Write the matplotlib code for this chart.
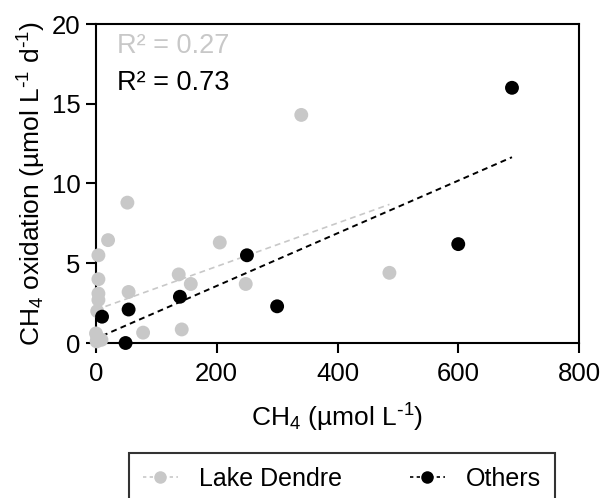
import numpy as np
import matplotlib
matplotlib.use("Agg")
import matplotlib.pyplot as plt
from matplotlib.lines import Line2D

plt.rcParams['font.family'] = ['Liberation Sans', 'DejaVu Sans']
plt.rcParams['mathtext.default'] = 'regular'

# Lake Dendre data
dendre_x = [340, 52, 20, 205, 4, 4, 137, 157, 248, 54, 4, 4, 2, 78, 142, 486, 0, 2, 9, 1]
dendre_y = [14.3, 8.8, 6.45, 6.3, 5.5, 4.0, 4.3, 3.7, 3.7, 3.2, 3.1, 2.7, 2.0, 0.65, 0.85, 4.4, 0.6, 0.3, 0.2, 0.1]
# Others
others_x = [689, 600, 250, 139, 300, 54, 10, 49]
others_y = [16.0, 6.2, 5.5, 2.9, 2.3, 2.1, 1.65, 0.0]

# Linear fits: [Lake Dendre, Others]
fit_slope = [0.0136, 0.0165]
fit_intercept = [2.08, 0.28]

r2_labels = ["R² = 0.27", "R² = 0.73"]
series_names = ["Lake Dendre", "Others"]
gray = "#c8c8c8"
black = "#000000"

fig = plt.figure(figsize=(6.02, 4.98), dpi=100)
ax = fig.add_axes([96/602, 1-343/498, (579-96)/602, (343-24)/498])

def fit_line(x, m, b, color, lw, dash):
    x = np.asarray(x, float)
    xs = np.array([x.min(), x.max()])
    ax.plot(xs, m*xs + b, linestyle=(0, dash), color=color, lw=lw, zorder=2)

fit_line(dendre_x, fit_slope[0], fit_intercept[0], gray, 1.2, (3.5, 2.5))
fit_line(others_x, fit_slope[1], fit_intercept[1], black, 1.4, (3, 2.2))

ax.scatter(dendre_x, dendre_y, s=100, color=gray, edgecolors='none', zorder=3, clip_on=False)
ax.scatter(others_x, others_y, s=100, color=black, edgecolors='none', zorder=4, clip_on=False)

ax.set_xlim(0, 800)
ax.set_ylim(0, 20)
ax.set_xticks([0, 200, 400, 600, 800])
ax.set_yticks([0, 5, 10, 15, 20])
for s in ax.spines.values():
    s.set_linewidth(1.5)
ax.tick_params(direction='out', length=7, width=1.5, labelsize=18.5)
ax.tick_params(axis='x', pad=7)
ax.tick_params(axis='y', pad=4)

ax.set_xlabel("CH$_4$ (µmol L$^{\\text{-}1}$)", fontsize=19, labelpad=11)
ax.set_ylabel("CH$_4$ oxidation (µmol L$^{\\text{-}1}$ d$^{\\text{-}1}$)", fontsize=19, labelpad=3)

ax.text((117-96)/483, 1-(46-24)/319, r2_labels[0], transform=ax.transAxes, color=gray, fontsize=19.5, va='center', ha='left')
ax.text((117-96)/483, 1-(83-24)/319, r2_labels[1], transform=ax.transAxes, color=black, fontsize=19.5, va='center', ha='left')

handles = [
    Line2D([0], [0], color=gray, linestyle=(0, (2, 2)), lw=1.2, marker='o', markersize=9, markeredgecolor='none'),
    Line2D([0], [0], color=black, linestyle=(0, (2, 2)), lw=1.2, marker='o', markersize=9, markeredgecolor='none'),
]
leg = fig.legend(handles, series_names, loc='upper left', bbox_to_anchor=(129/602, 1-453/498),
                 ncol=2, fontsize=18, frameon=True, fancybox=False, handlelength=1.4,
                 columnspacing=2.7, handletextpad=0.85, borderpad=0.55, borderaxespad=0)
leg.get_frame().set_edgecolor('black')
leg.get_frame().set_linewidth(1.5)

fig.savefig("out.png", dpi=100)
